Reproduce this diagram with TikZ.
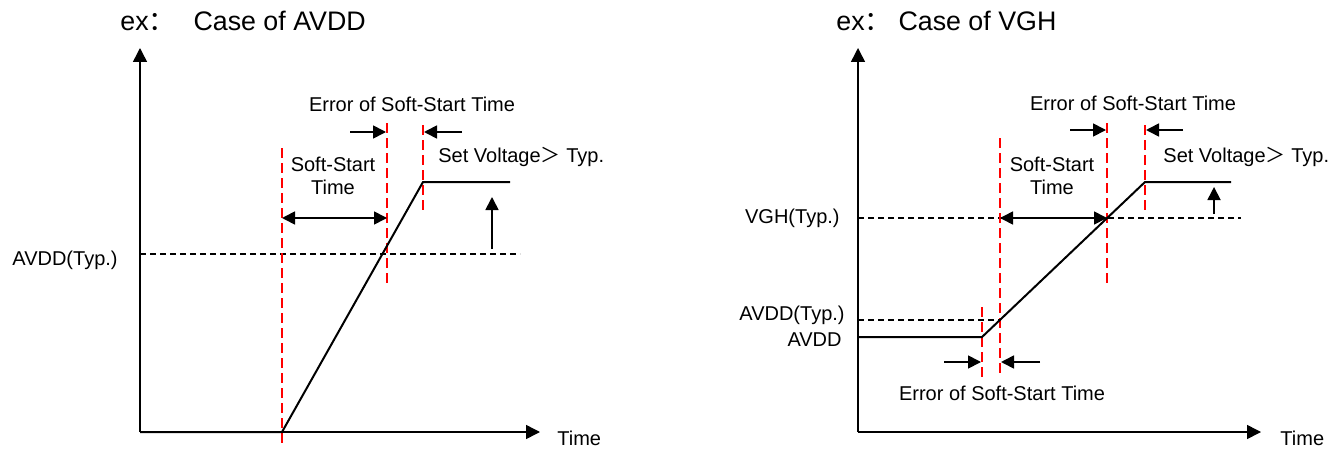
\documentclass[tikz,border=0pt]{standalone}
\usepackage{fontspec}
\setmainfont{Liberation Sans}
\newfontfamily\cjk{Noto Sans CJK SC}
\usetikzlibrary{arrows.meta, positioning}
\tikzset{
    axis/.style={-{Triangle[length=7pt, width=7pt]}, line width=0.75pt},
    curve/.style={line width=1pt},
    typ/.style={dashed, dash pattern=on 3pt off 2pt, line width=0.65pt},
    mark line/.style={red, line width=0.7pt, dash pattern=on 5pt off 2.5pt},
    arr/.style={-{Triangle[length=6.5pt, width=6.5pt]}, line width=0.85pt},
    dbl/.style={{Triangle[length=6.5pt, width=6.5pt]}-{Triangle[length=6.5pt, width=6.5pt]}, line width=0.85pt},
    lbl/.style={inner sep=0pt, font=\fontsize{10}{11.5}\selectfont, align=center},
    title/.style={inner sep=0pt, anchor=west, font=\fontsize{13.4}{16}\selectfont},
}

\begin{document}
\begin{tikzpicture}[x=0.5pt, y=-0.5pt]
\useasboundingbox (0,0) rectangle (1342,449);

% ---------- Case of AVDD ----------
\node[title] (t1) at (120,21) {ex{\cjk ：}\hspace{9pt}Case of AVDD};

% Axes
\coordinate (o1) at (140,432);
\coordinate (ytop1) at (140,48);
\coordinate (xend1) at (540,432);
\draw[axis] (o1) -- (ytop1);
\draw[axis] (o1) -- (xend1);
\node[lbl, anchor=west] (time1) at (557,438) {Time};

% Typ. level
\coordinate (typa) at (140,254);
\coordinate (typb) at (520,254);
\draw[typ] (typa) -- (typb);
\node[lbl, anchor=east] (avddtyp1) at (118,260) {AVDD(Typ.)};

% Markers
\draw[mark line] (282,148) -- (282,443);
\draw[mark line] (387,123) -- (387,285);
\draw[mark line] (423,125) -- (423,211);

% Output
\coordinate (s1) at (282,432);
\coordinate (k1) at (423,182);
\coordinate (e1) at (510,182);
\draw[curve] (o1) -- (s1) -- (k1) -- (e1);

% Soft-start time
\coordinate (ssa1) at (282,218);
\coordinate (ssb1) at (387,218);
\draw[dbl] (ssa1) -- (ssb1);
\node[lbl] (ss1) at (333,176) {Soft-Start\\Time};

% Error
\coordinate (ea1) at (350,132);
\coordinate (eb1) at (386,132);
\coordinate (ec1) at (462,132);
\coordinate (ed1) at (424,132);
\draw[arr] (ea1) -- (eb1);
\draw[arr] (ec1) -- (ed1);
\node[lbl] (err1) at (412,104) {Error of Soft-Start Time};

% Set voltage
\coordinate (ua1) at (492,249);
\coordinate (ub1) at (492,197);
\draw[arr] (ua1) -- (ub1);
\node[lbl, anchor=west] (set1) at (438,157) {Set Voltage{\cjk ＞} Typ.};

% ---------- Case of VGH ----------
\node[title] (t2) at (836,21) {ex{\cjk ：}\hspace{3.5pt}Case of VGH};

% Axes
\coordinate (o2) at (858,432);
\coordinate (ytop2) at (858,48);
\coordinate (xend2) at (1261,432);
\draw[axis] (o2) -- (ytop2);
\draw[axis] (o2) -- (xend2);
\node[lbl, anchor=west] (time2) at (1280,438) {Time};

% Typ. levels
\coordinate (vgha) at (858,218);
\coordinate (vghb) at (1241,218);
\draw[typ] (vgha) -- (vghb);
\node[lbl, anchor=east] (vghtyp) at (840,218) {VGH(Typ.)};
\coordinate (avda) at (858,320);
\coordinate (avdb) at (1000,320);
\draw[typ] (avda) -- (avdb);
\node[lbl, anchor=east] (avddtyp2) at (845,315) {AVDD(Typ.)};
\node[lbl, anchor=east] (avdd2) at (842,340) {AVDD};

% Markers
\draw[mark line] (982,307) -- (982,377);
\draw[mark line] (1000,138) -- (1000,377);
\draw[mark line] (1107,123) -- (1107,285);
\draw[mark line] (1145,125) -- (1145,210);

% Output
\coordinate (b2) at (858,337);
\coordinate (s2) at (982,337);
\coordinate (k2) at (1145,182);
\coordinate (e2) at (1231,182);
\draw[curve] (b2) -- (s2) -- (k2) -- (e2);

% Soft-start time
\coordinate (ssa2) at (1000,218);
\coordinate (ssb2) at (1107,218);
\draw[dbl] (ssa2) -- (ssb2);
\node[lbl] (ss2) at (1052,176) {Soft-Start\\Time};

% Error (top)
\coordinate (ea2) at (1070,130);
\coordinate (eb2) at (1106,130);
\coordinate (ec2) at (1183,130);
\coordinate (ed2) at (1146,130);
\draw[arr] (ea2) -- (eb2);
\draw[arr] (ec2) -- (ed2);
\node[lbl] (err2) at (1133,103) {Error of Soft-Start Time};

% Error (bottom)
\coordinate (fa2) at (944,362);
\coordinate (fb2) at (981,362);
\coordinate (fc2) at (1040,362);
\coordinate (fd2) at (1001,362);
\draw[arr] (fa2) -- (fb2);
\draw[arr] (fc2) -- (fd2);
\node[lbl] (err3) at (1002,393) {Error of Soft-Start Time};

% Set voltage
\coordinate (ua2) at (1214,214);
\coordinate (ub2) at (1214,187);
\draw[arr] (ua2) -- (ub2);
\node[lbl, anchor=west] (set2) at (1163,157) {Set Voltage{\cjk ＞} Typ.};

\end{tikzpicture}
\end{document}
